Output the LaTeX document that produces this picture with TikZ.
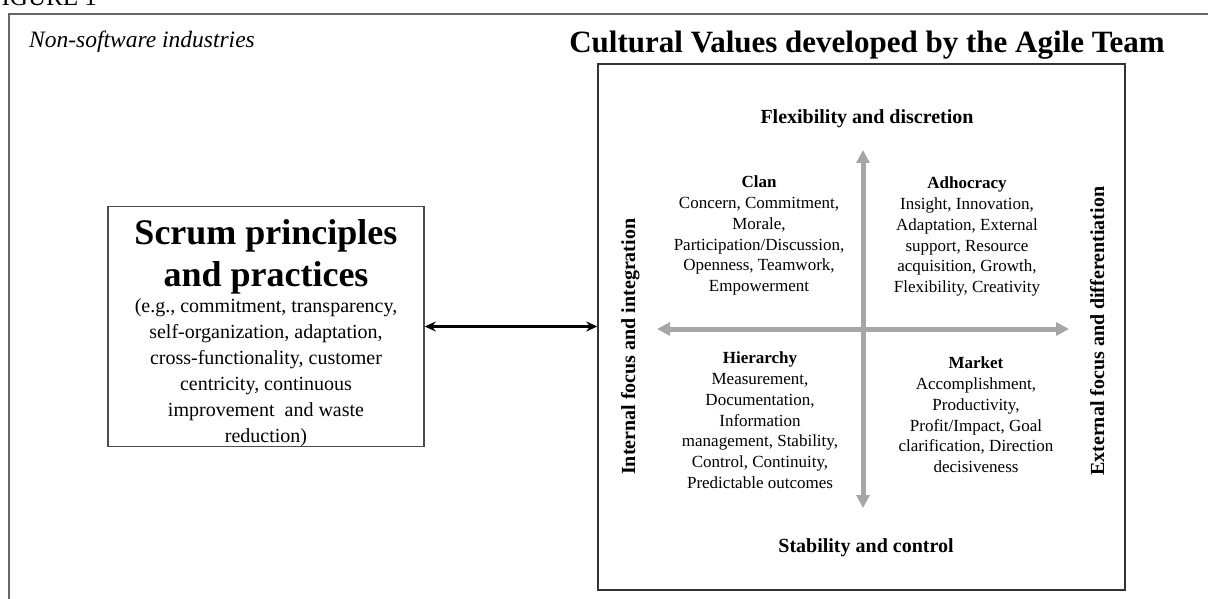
\documentclass[tikz,border=0pt]{standalone}
\usepackage{fontspec}
\setmainfont{Liberation Serif}
\usetikzlibrary{arrows.meta}
\usetikzlibrary{positioning}

\begin{document}
\begin{tikzpicture}[x=1pt,y=-1pt]
	\tikzset{
		Q/.style={align=center,inner sep=0pt,anchor=north,font=\fontsize{17}{20.7}\selectfont},
		A/.style={inner sep=0pt,anchor=base,font=\fontsize{20}{24}\selectfont\bfseries},
		G/.style={line width=5pt,draw=black!35,{Triangle[length=13pt,width=13pt]}-{Triangle[length=13pt,width=13pt]}},
	}
	\useasboundingbox (0,0) rectangle (1208,599);
	\clip (0,0) rectangle (1208,599);
	
	% frame of the figure
	\draw[black!60,line width=1.5pt] (9,630) -- (9,14) -- (1240,14);
	\node[anchor=base east,inner sep=0pt,font=\fontsize{25}{30}\selectfont] (fig) at (97,6) {FIGURE 1};
	\node[anchor=base west,inner sep=0pt,font=\fontsize{23.5}{28}\selectfont\itshape] (ind) at (29,48) {Non-software industries};
	\node[anchor=base,inner sep=0pt,font=\fontsize{31}{36}\selectfont\bfseries] (title) at (867,53) {Cultural Values developed by the Agile Team};
	
	\node[draw=black!80,line width=1.5pt,minimum width=527pt,minimum height=526pt,inner sep=0pt] (quad) at (861.5,327) {};
	\node[draw=black!70,line width=1.5pt,minimum width=316pt,minimum height=239pt,text width=300pt,align=flush center,inner sep=0pt] (scrum) at (266,326.5) {%
		{\fontsize{36}{42}\selectfont\bfseries\rule{0pt}{38pt}Scrum principles\\ and practices\par}%
		{\fontsize{20}{26}\selectfont (e.g., commitment, transparency,\\ self-organization, adaptation,\\ cross-functionality, customer\\ centricity, continuous\\ improvement\ \ and waste\\ reduction)\par}%
	};
	
	% axes of the quadrant
	\coordinate (up) at (863,150);
	\coordinate (dn) at (863,508);
	\coordinate (lt) at (657,329);
	\coordinate (rt) at (1069,329);
	\draw[G] (lt) -- (rt);
	\draw[G] (dn) -- (up);
	
	\node[A] (flex) at (867,124) {Flexibility and discretion};
	\node[A] (stab) at (866,552) {Stability and control};
	\node[A,anchor=base west,rotate=90] (intl) at (635,475) {Internal\ focus\ and\ integration};
	\node[A,anchor=base west,rotate=90] (extl) at (1104,476) {External focus and differentiation};
	
	\node[Q] (clan) at (759,176) {\textbf{Clan}\\Concern, Commitment,\\Morale,\\Participation/Discussion,\\Openness, Teamwork,\\Empowerment};
	\node[Q] (adho) at (967,177) {\textbf{Adhocracy}\\Insight, Innovation,\\Adaptation, External\\support, Resource\\acquisition, Growth,\\Flexibility, Creativity};
	\node[Q] (hier) at (760,352) {\textbf{Hierarchy}\\Measurement,\\Documentation,\\Information\\management, Stability,\\Control, Continuity,\\Predictable outcomes};
	\node[Q] (mark) at (976,357) {\textbf{Market}\\Accomplishment,\\Productivity,\\Profit/Impact, Goal\\clarification, Direction\\decisiveness};
	
	\draw[line width=2.5pt,{Stealth[length=11pt,width=10pt]}-{Stealth[length=11pt,width=10pt]}] (scrum.east) -- (scrum.east -| quad.west);
\end{tikzpicture}
\end{document}
